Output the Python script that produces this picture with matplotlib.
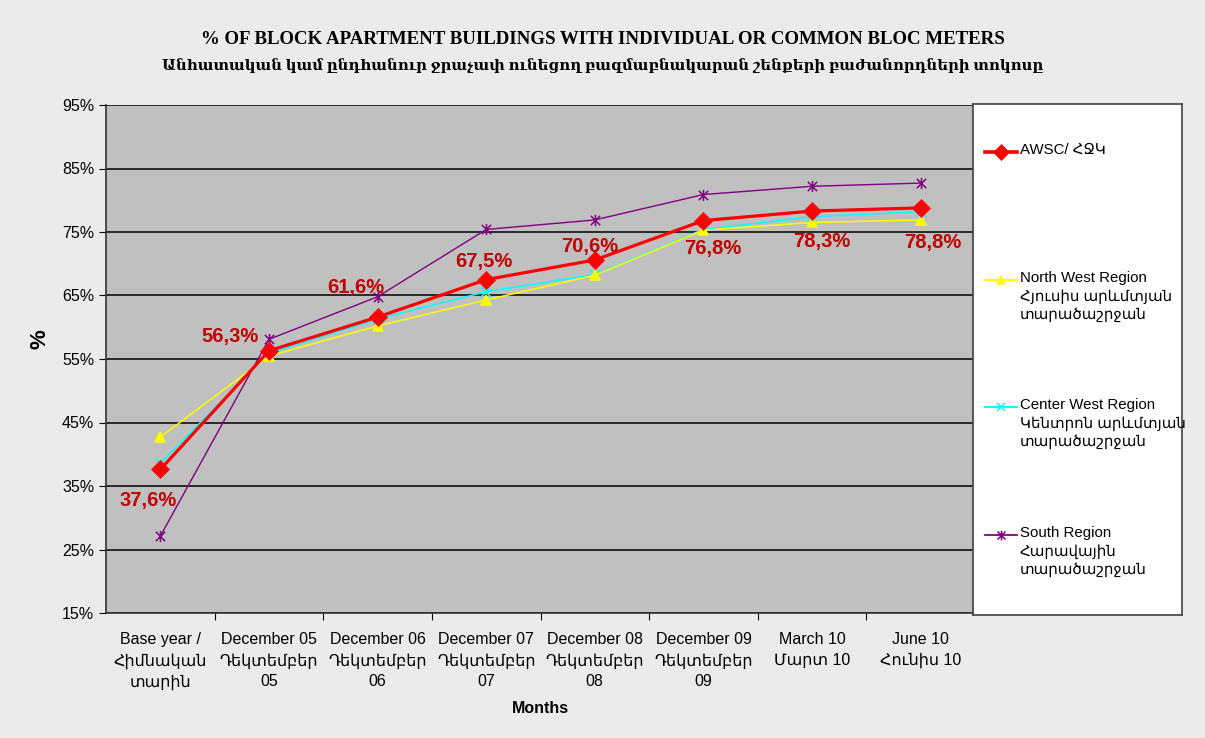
import matplotlib
matplotlib.use("Agg")
import matplotlib.pyplot as plt
from matplotlib.lines import Line2D
from matplotlib.path import Path

# data
months = ["Base year /\nՀիմնական\nտարին", "December 05\nԴեկտեմբեր\n05",
          "December 06\nԴեկտեմբեր\n06", "December 07\nԴեկտեմբեր\n07",
          "December 08\nԴեկտեմբեր\n08", "December 09\nԴեկտեմբեր\n09",
          "March 10\nՄարտ 10", "June 10\nՀունիս 10"]
awsc = [37.6, 56.3, 61.6, 67.5, 70.6, 76.8, 78.3, 78.8]
north_west = [42.7, 55.5, 60.2, 64.3, 68.2, 75.3, 76.5, 76.9]
center_west = [38.6, 55.9, 61.3, 65.6, 68.3, 75.4, 77.4, 78.2]
south = [27.1, 58.1, 64.8, 75.4, 76.9, 80.9, 82.2, 82.7]
yticks = [15, 25, 35, 45, 55, 65, 75, 85, 95]

# label offsets (points) for the AWSC values
lab_off = [(-9, -22), (-28, 10), (-16, 21), (-2, 13), (-4, 10), (7, -20), (7, -22), (9, -25)]

sans = ["Liberation Sans", "DejaVu Sans"]
serif = ["Liberation Serif", "DejaVu Serif"]
plt.rcParams['font.family'] = sans

# excel-like star: an x with a vertical bar
star = Path([(-1, -1), (1, 1), (-1, 1), (1, -1), (0, -1.2), (0, 1.2)],
            [Path.MOVETO, Path.LINETO, Path.MOVETO, Path.LINETO, Path.MOVETO, Path.LINETO])

fig = plt.figure(figsize=(12.05, 7.38), dpi=100)
fig.patch.set_facecolor("#ebebeb")
ax = fig.add_axes([106/1205, 125/738, 869/1205, 508/738])
ax.set_facecolor("#c0c0c0")

x = list(range(len(months)))
series = [
    (awsc, "#ff0000", "D", 9, 2.3, "AWSC/ ՀՋԿ"),
    (north_west, "#ffff00", "^", 7, 1.1, "North West Region\nՀյուսիս արևմտյան\nտարածաշրջան"),
    (center_west, "#00ffff", "x", 7, 1.1, "Center West Region\nԿենտրոն արևմտյան\nտարածաշրջան"),
    (south, "#800080", star, 8, 1.0, "South Region\nՀարավային\nտարածաշրջան"),
]
for vals, col, mk, ms, lw, lab in series[::-1]:
    ax.plot(x, vals, color=col, marker=mk, markersize=ms, lw=lw,
            markeredgecolor=col, markeredgewidth=1.1 if mk != "D" else 0.5, zorder=3)

for xi, v, off in zip(x, awsc, lab_off):
    ax.annotate(f"{v:.1f}%".replace(".", ","), (xi, v), xytext=off, textcoords="offset points",
                ha="center", va="center", color="#c00000", fontsize=14.5, fontweight="bold", zorder=4)

ax.set_xlim(-0.5, len(months) - 0.5)
ax.set_ylim(15, 95)
ax.set_yticks(yticks)
ax.set_yticklabels([f"{t}%" for t in yticks], fontsize=11.5)
ax.yaxis.grid(True, color="black", lw=1.1)
ax.set_axisbelow(True)
ax.set_xticks([i + 0.5 for i in range(len(months) - 1)])
ax.set_xticklabels([])
ax.set_xticks(x, minor=True)
ax.set_xticklabels(months, minor=True, fontsize=11.5, linespacing=1.45)
ax.tick_params(axis="x", which="minor", length=0, pad=14)
ax.tick_params(axis="x", which="major", length=5, direction="out")
ax.tick_params(axis="y", length=5, direction="out")
for s in ["top", "right"]:
    ax.spines[s].set_visible(False)
for s in ["left", "bottom"]:
    ax.spines[s].set_color("#333333")
    ax.spines[s].set_linewidth(1.2)

ax.set_xlabel("Months", fontsize=11.5, fontweight="bold", labelpad=8)
ax.set_ylabel("%", fontsize=16, fontweight="bold")
ax.yaxis.set_label_coords(-0.064, 0.54)

fig.text(0.5, 1 - 40/738, "% OF BLOCK APARTMENT BUILDINGS WITH INDIVIDUAL OR COMMON BLOC METERS",
         ha="center", va="center", family=serif, fontsize=13.6, fontweight="bold")
fig.text(0.5, 1 - 66/738, "Անհատական կամ ընդհանուր ջրաչափ ունեցող բազմաբնակարան շենքերի բաժանորդների տոկոսը",
         ha="center", va="center", family=serif, fontsize=10.7, fontweight="bold")

# legend box
lg = fig.add_axes([973/1205, 123/738, 209/1205, 511/738])
lg.set_facecolor("white")
lg.set_xlim(0, 209)
lg.set_ylim(511, 0)
lg.set_xticks([])
lg.set_yticks([])
for s in lg.spines.values():
    s.set_color("#404040")
    s.set_linewidth(1.2)
rows = [48, 176, 303, 431]
for (vals, col, mk, ms, lw, lab), ry in zip(series, rows):
    lg.add_line(Line2D([12, 44], [ry, ry], color=col, lw=lw + 0.3))
    lg.plot([28], [ry], marker=mk, color=col, markersize=ms - 1, markeredgecolor=col,
            markeredgewidth=1.1 if mk != "D" else 0.5)
    lg.text(47, ry - 9, lab, ha="left", va="top", fontsize=10.8, linespacing=1.35)

fig.savefig("out.png", dpi=100, facecolor=fig.get_facecolor())
